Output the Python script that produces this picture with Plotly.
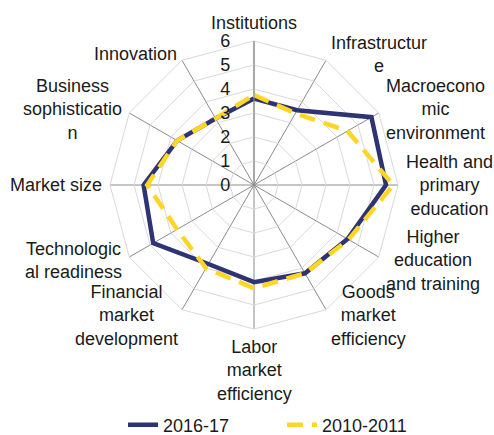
import math
import plotly.graph_objects as go

categories = [
    "Institutions", "Infrastructur<br>e", "Macroecono<br>mic<br>environment",
    "Health and<br>primary<br>education", "Higher<br>education<br>and training",
    "Goods<br>market<br>efficiency", "Labor<br>market<br>efficiency",
    "Financial<br>market<br>development", "Technologic<br>al readiness",
    "Market size", "Business<br>sophisticatio<br>n", "Innovation",
]
series_2016 = [3.6, 3.6, 5.65, 5.5, 4.5, 4.25, 4.05, 3.8, 4.85, 4.6, 3.7, 3.2]
series_2010 = [3.75, 3.45, 4.5, 5.8, 4.55, 4.25, 4.3, 4.0, 3.7, 4.45, 3.7, 3.2]
radial_ticks = [0, 1, 2, 3, 4, 5, 6]

FONT = "Liberation Sans, Arial, sans-serif"
W, H = 494, 435

fig = go.Figure()
fig.add_trace(go.Scatterpolar(
    r=series_2016 + series_2016[:1], theta=categories + categories[:1],
    mode="lines", name="2016-17",
    line=dict(color="#2E3373", width=4.5),
))
fig.add_trace(go.Scatterpolar(
    r=series_2010 + series_2010[:1], theta=categories + categories[:1],
    mode="lines", name="2010-2011",
    line=dict(color="#FFD625", width=4.5, dash="16px,9px"),
))

cx, cy, rad = 254, 185, 144
gap = 7

# category labels placed just outside each spoke tip (Excel-like placement)
annotations = []
n = len(categories)
for i, lab in enumerate(categories):
    th = math.radians(360.0 * i / n)
    ux, uy = math.sin(th), -math.cos(th)
    px = cx + (rad + gap) * ux
    py = cy + (rad + gap) * uy
    if abs(ux) < 1e-6:
        xa = "center"
        ya = "bottom" if uy < 0 else "top"
    else:
        xa = "left" if ux > 0 else "right"
        ya = "middle"
    annotations.append(dict(
        text=lab, x=px / W, y=1 - py / H, xref="paper", yref="paper",
        xanchor=xa, yanchor=ya, align="center", showarrow=False,
        font=dict(size=18, color="#1a1a1a", family=FONT), borderpad=0,
    ))

fig.update_layout(
    width=W, height=H,
    margin=dict(l=0, r=0, t=0, b=0, autoexpand=False),
    paper_bgcolor="white",
    font=dict(family=FONT, size=18, color="#1a1a1a"),
    annotations=annotations,
    polar=dict(
        domain=dict(x=[(cx - rad) / W, (cx + rad) / W],
                    y=[1 - (cy + rad) / H, 1 - (cy - rad) / H]),
        bgcolor="white",
        gridshape="linear",
        angularaxis=dict(
            rotation=90, direction="clockwise",
            showline=True, linecolor="#d9d9d9", linewidth=1,
            gridcolor="#8c8c8c", gridwidth=1,
            ticks="", showticklabels=False,
        ),
        radialaxis=dict(
            range=[0, 6], tickvals=radial_ticks, ticktext=[str(v) for v in radial_ticks],
            angle=90, tickangle=90, side="counterclockwise",
            showline=True, linecolor="#8c8c8c", linewidth=1,
            gridcolor="#d9d9d9", gridwidth=1,
            ticks="outside", ticklen=17, tickcolor="rgba(0,0,0,0)",
            tickfont=dict(size=18, color="#1a1a1a"),
        ),
    ),
    legend=dict(
        orientation="h", x=123 / W, xanchor="left",
        y=1 - 425 / H, yanchor="middle",
        font=dict(size=18, color="#1a1a1a"),
        entrywidth=114, entrywidthmode="pixels", tracegroupgap=0,
    ),
)

fig.write_html(
    "out.html",
    config={"displayModeBar": False},
    post_script="document.body.style.margin='0';document.body.style.overflow='hidden';",
)
